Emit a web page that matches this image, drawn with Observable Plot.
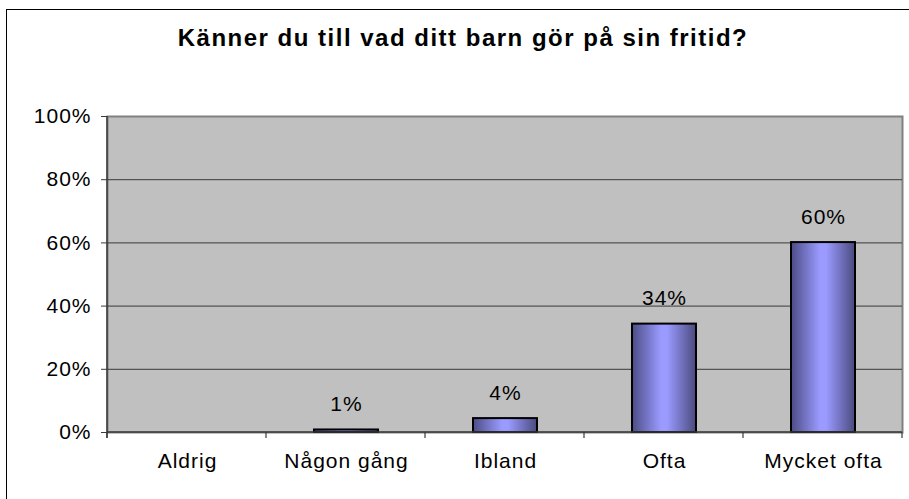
<!DOCTYPE html>
<html><head><meta charset="utf-8">
<script src="https://cdn.jsdelivr.net/npm/d3@7"></script>
<script src="https://cdn.jsdelivr.net/npm/@observablehq/plot@0.6"></script>
<style>
body{margin:0;background:#fff;}
#wrap{position:relative;width:909px;height:499px;overflow:hidden;font-family:"Liberation Sans",Arial,sans-serif;background:#fff;}
#border{position:absolute;left:6px;top:9px;width:960px;height:560px;border:1.5px solid #000;}
#title{position:absolute;left:0;width:926px;top:24px;text-align:center;font-weight:bold;font-size:24px;letter-spacing:1.5px;color:#000;line-height:1.15;}
#chart{position:absolute;left:0;top:70px;}
</style></head><body>
<div id="wrap"><div id="border"></div><div id="title">Känner du till vad ditt barn gör på sin fritid?</div><div id="chart"></div></div>
<script>
const categories = ["Aldrig", "Någon gång", "Ibland", "Ofta", "Mycket ofta"];
const values = [0, 0.8, 4.4, 34.3, 60.1];
const yTicks = [0, 20, 40, 60, 80, 100];

const data = categories.map((c, i) => ({category: c, value: values[i]}));
const shown = data.filter(d => d.value > 0);

function decorations(index, scales, vals, dims) {
  const g = d3.create("svg:g");
  const grad = g.append("defs").append("linearGradient").attr("id", "barGrad").attr("x1", "0").attr("x2", "1").attr("y1", "0").attr("y2", "0");
  grad.append("stop").attr("offset", "0%").attr("stop-color", "#4c4c86");
  grad.append("stop").attr("offset", "45%").attr("stop-color", "#9a9aff");
  grad.append("stop").attr("offset", "55%").attr("stop-color", "#9a9aff");
  grad.append("stop").attr("offset", "100%").attr("stop-color", "#4a4a7e");
  const left = dims.marginLeft, right = dims.width - dims.marginRight;
  const y0 = scales.y(0), y1 = scales.y(100);
  const step = (right - left) / categories.length;
  g.append("line").attr("x1", left).attr("x2", left).attr("y1", y1).attr("y2", y0 + 6).attr("stroke", "#3a3a3a").attr("stroke-width", 1.5);
  g.append("line").attr("x1", left).attr("x2", right).attr("y1", y0).attr("y2", y0).attr("stroke", "#3a3a3a").attr("stroke-width", 1.5);
  for (let i = 0; i <= categories.length; i++) {
    const x = left + i * step;
    g.append("line").attr("x1", x).attr("x2", x).attr("y1", y0).attr("y2", y0 + 6).attr("stroke", "#3a3a3a").attr("stroke-width", 1.2);
  }
  return g.node();
}

const plot = Plot.plot({
  width: 909,
  height: 429,
  marginTop: 46,
  marginBottom: 67,
  marginLeft: 107,
  marginRight: 7,
  style: {fontFamily: '"Liberation Sans", Arial, sans-serif', fontSize: "21px", letterSpacing: "1px", background: "transparent", color: "#000"},
  x: {domain: categories, paddingInner: 0.6, paddingOuter: 0.3, label: null},
  y: {domain: [0, 100], label: null},
  marks: [
    Plot.frame({fill: "#c0c0c0", stroke: "#808080", strokeWidth: 2}),
    Plot.ruleY([20, 40, 60, 80], {stroke: "#3a3a3a", strokeWidth: 1}),
    Plot.barY(shown, {x: "category", y: "value", fill: "url(#barGrad)", stroke: "#000", strokeWidth: 2}),
    Plot.text(shown, {x: "category", y: "value", text: d => Math.round(d.value) + "%", lineAnchor: "bottom", dy: -19, fontSize: 21, fill: "#000"}),
    Plot.axisY(yTicks, {tickSize: 6, tickPadding: 10, tickFormat: d => d + "%", stroke: "#3a3a3a", fontSize: 21, fill: "#000"}),
    Plot.axisX({tickSize: 0, tickPadding: 21, fontSize: 21, fill: "#000"}),
    decorations
  ]
});
document.getElementById("chart").appendChild(plot);
</script>
</body></html>
